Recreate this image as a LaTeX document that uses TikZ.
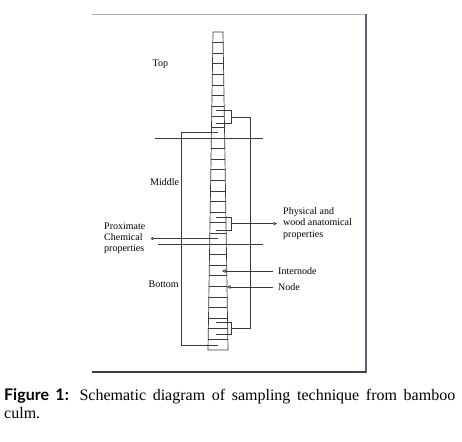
\documentclass[tikz,border=0pt]{standalone}
\usepackage{fontspec}
\setmainfont{Liberation Serif}
\newfontfamily\capsans{Lato}
\usetikzlibrary{arrows.meta}
\definecolor{frameR}{HTML}{6B5B73}
\definecolor{frameB}{HTML}{3F3F3A}
\definecolor{lncol}{HTML}{3A3A3A}
\begin{document}
\begin{tikzpicture}[x=1pt,y=-1pt,
  ln/.style={draw=lncol, line width=0.7pt},
  lbl/.style={anchor=west, inner sep=0pt, font=\fontsize{10}{11.3}\selectfont, align=left},
  tipc/.style={-{Circle[open,length=3pt,width=3pt]}},
  tipt/.style={-{Triangle[open,length=3.5pt,width=3.5pt]}}]
\useasboundingbox (0,0) rectangle (462,441);
% frame
\draw[gray!60, line width=0.6pt] (92,14) -- (366,14);
\draw[frameR, line width=1.6pt] (366,14) -- (366,372.8);
\draw[frameB, line width=1.6pt] (92,372) -- (366,372);
% culm
\draw[ln] (213,32) -- (223,32) -- (228,350) -- (208,350) -- cycle;
\foreach \k in {1,...,29} {
  \pgfmathsetmacro\yy{32+10.6*\k}
  \pgfmathsetmacro\xl{213-5*(\yy-32)/318}
  \pgfmathsetmacro\xr{223+5*(\yy-32)/318}
  \draw[ln] (\xl,\yy) -- (\xr,\yy);
}
% coordinates
\coordinate (t1a) at (216,110.7); \coordinate (t1b) at (231,110.7);
\coordinate (t2a) at (216,123.3); \coordinate (t2b) at (231,123.3);
\coordinate (tm) at (231,117); \coordinate (rtop) at (250,117);
\coordinate (b1a) at (216,322); \coordinate (b1b) at (231,322);
\coordinate (b2a) at (216,334.6); \coordinate (b2b) at (231,334.6);
\coordinate (bm) at (231,328.3); \coordinate (rbot) at (250,328.3);
\coordinate (m1a) at (216,217.3); \coordinate (m1b) at (231,217.3);
\coordinate (m2a) at (216,230); \coordinate (m2b) at (231,230);
\coordinate (mm) at (231,223.6); \coordinate (phend) at (277,223.6);
\coordinate (lta) at (218,132.7); \coordinate (ltb) at (181,132.7);
\coordinate (lba) at (218,345.7); \coordinate (lbb) at (181,345.7);
\coordinate (pxa) at (218,238.5); \coordinate (pxb) at (151,238.5);
\coordinate (d1a) at (155,138); \coordinate (d1b) at (263,138);
\coordinate (d2a) at (158,244); \coordinate (d2b) at (263,244);
\coordinate (ina) at (273,271); \coordinate (inb) at (222,271);
\coordinate (nda) at (273,287); \coordinate (ndb) at (227,287);
% brackets
\draw[ln] (t1a) -- (t1b) -- (t2b) -- (t2a);
\draw[ln] (b1a) -- (b1b) -- (b2b) -- (b2a);
\draw[ln] (m1a) -- (m1b) -- (m2b) -- (m2a);
\draw[ln] (tm) -- (rtop) -- (rbot) -- (bm);
\draw[ln] (lta) -- (ltb) -- (lbb) -- (lba);
\draw[ln,tipt] (mm) -- (phend);
\draw[ln,tipc] (pxa) -- (pxb);
\draw[ln] (d1a) -- (d1b);
\draw[ln] (d2a) -- (d2b);
\draw[ln,tipt] (ina) -- (inb);
\draw[ln,tipt] (nda) -- (ndb);
% labels
\node[lbl] (top) at (152.5,64.5) {Top};
\node[lbl] (mid) at (150,182.3) {Middle};
\node[lbl] (bot) at (148.5,284.3) {Bottom};
\node[lbl] (prox) at (104,238.3) {Proximate\\Chemical\\properties};
\node[lbl] (phys) at (283,223.5) {Physical and\\wood anatomical\\properties};
\node[lbl] (intl) at (278,271.5) {Internode};
\node[lbl] (nodl) at (278,287) {Node};
% caption
\node[anchor=north west, text width=451pt, align=justify, inner sep=0pt,
  font=\fontsize{16}{18.5}\selectfont] (cap) at (4,388)
  {{\capsans\bfseries Figure 1:} Schematic diagram of sampling technique from bamboo culm.};
\end{tikzpicture}
\end{document}
